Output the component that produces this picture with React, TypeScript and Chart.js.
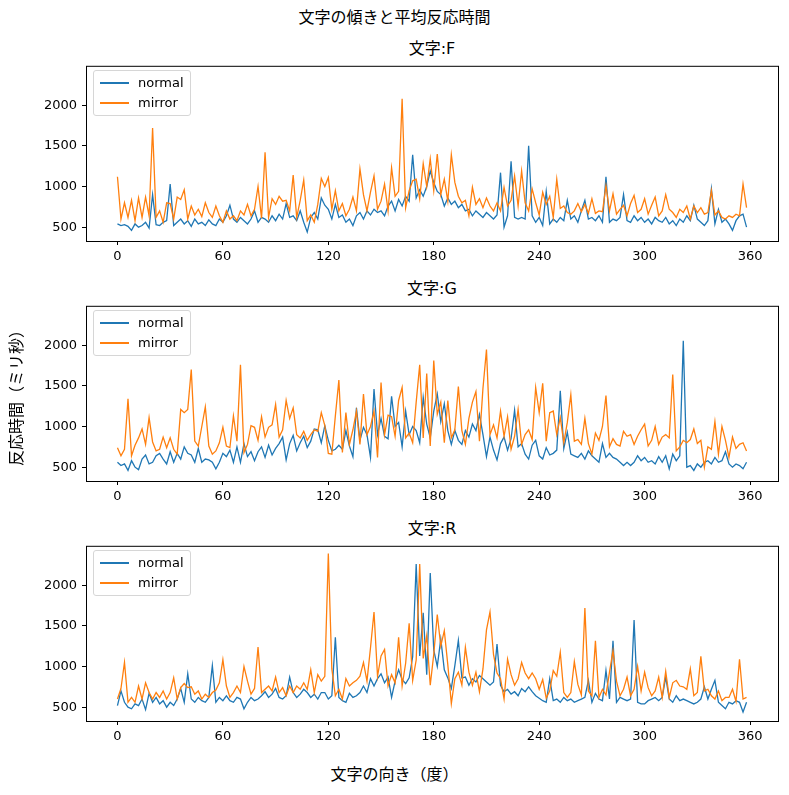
import { useEffect, useRef } from 'react'
import Chart from 'chart.js/auto'

// angles 0..358 in 2° steps
const angles = Array.from({ length: 180 }, (_, i) => i * 2)

const xTicks = [0, 60, 120, 180, 240, 300, 360]
const yTicks = [500, 1000, 1500, 2000]

const normalF = [
  540, 520, 530, 510, 460, 540, 500, 520, 560, 490,
  900, 530, 520, 560, 580, 1030, 520, 560, 600, 540,
  580, 510, 600, 540, 560, 520, 590, 540, 520, 600,
  560, 640, 770, 600, 560, 620, 580, 540, 600, 700,
  560, 620, 600, 560, 640, 580, 660, 600, 790, 620,
  640, 580, 700, 560, 440, 620, 680, 600, 860, 770,
  720, 600, 780, 620, 650, 560, 600, 520, 640, 680,
  600, 700, 650, 720, 680, 700, 640, 760, 820, 700,
  840, 760, 880, 820, 1390, 860, 960, 880, 1000, 1190,
  1050, 940, 900, 760, 860, 780, 820, 740, 780, 700,
  720, 640, 700, 660, 620, 680, 640, 600, 650, 1170,
  500, 640, 1310, 620, 600, 620, 600, 1500, 640,
  560, 620, 520, 940, 540, 600, 560, 620, 580, 830,
  600, 640, 560, 700, 830, 600, 620, 580, 640, 560,
  1120, 560, 600, 580, 620, 900, 580, 560, 640, 580,
  620, 560, 600, 540, 620, 580, 560, 620, 540, 580,
  520, 600, 560, 640, 580, 770, 600, 560, 520, 580,
  970, 540, 720, 560, 600, 540, 460, 580, 640, 660,
  500,
]

const mirrorF = [
  1120, 600, 800, 620, 830, 580, 860, 620, 870, 640,
  1720, 620, 700, 560, 800, 790, 600, 870, 840, 960,
  600, 760, 650, 720, 630, 800, 680, 620, 760, 640,
  560, 700, 600, 640, 580, 700, 650, 780, 640, 720,
  1000, 610, 1420, 620, 850, 780, 880, 820, 830, 700,
  1140, 620, 830, 1080, 580, 650, 560, 780, 1100, 1000,
  1110, 720, 950, 700, 790, 640, 720, 870, 700, 1215,
  900, 700, 930, 1130, 720, 820, 1030, 700, 1230, 880,
  940, 2080, 740, 950, 1070, 1090, 850, 1280, 1000, 1340,
  950, 1400, 900, 1090, 820, 1390, 1050, 880, 800, 830,
  640, 990, 780, 850, 740, 860, 760, 700, 800, 700,
  990, 760, 830, 1130, 760, 1190, 800, 700, 970,
  800, 650, 930, 780, 880, 620, 1090, 730, 760, 680,
  660, 700, 790, 690, 780, 670, 850, 670, 700, 690,
  1010, 700, 910, 660, 720, 770, 640, 790, 890, 680,
  720, 850, 660, 770, 870, 640, 700, 900, 720, 680,
  620, 720, 680, 760, 600, 760, 680, 740, 660, 680,
  950, 650, 700, 620, 600, 640, 620, 660, 640, 1030,
  740,
]

const normalG = [
  560, 520, 540, 460, 580, 500, 470, 600, 650, 540,
  560, 640, 670, 600, 540, 690, 560, 670, 600, 750,
  670, 650, 560, 730, 560, 600, 590, 560, 480, 560,
  670, 630, 710, 560, 750, 560, 790, 630, 690, 580,
  690, 750, 620, 770, 650, 730, 790, 870, 590, 790,
  890, 700, 800, 880, 740, 820, 970, 960, 800, 1010,
  830, 700, 720, 770, 720, 950, 760, 630, 1230, 830,
  990, 900, 620, 1460, 900, 1100, 880, 850, 1370, 1000,
  1050, 750, 1190, 900, 1000, 950, 800, 1360, 1030, 860,
  1190, 1400, 1060, 1280, 950, 780, 950, 830, 780, 950,
  870, 1030, 950, 1150, 900, 630, 870, 710, 590, 790,
  870, 710, 850, 1200, 750, 790, 660, 600, 770,
  830, 640, 600, 740, 650, 670, 710, 1440, 730, 930,
  660, 640, 620, 670, 600, 700, 640, 600, 560, 790,
  620, 670, 620, 600, 560, 520, 560, 520, 560, 640,
  580, 620, 560, 580, 540, 630, 560, 640, 480, 660,
  580, 640, 2055, 500, 520, 460, 540, 500, 560, 580,
  540, 620, 560, 580, 690, 540, 500, 540, 520, 480,
  560,
]

const mirrorG = [
  740, 640, 720, 1340, 640, 770, 860, 970, 780, 1110,
  810, 700, 720, 870, 740, 860, 720, 660, 1210, 1170,
  1210, 1700, 820, 760, 1000, 1240, 760, 660, 700, 800,
  990, 760, 740, 1130, 820, 1760, 680, 780, 1010, 990,
  830, 1120, 870, 990, 1020, 1270, 870, 960, 1320, 1100,
  1230, 900, 860, 940, 830, 900, 960, 940, 1170, 1010,
  670, 660, 1130, 1570, 680, 1170, 780, 960, 1190, 780,
  1400, 900, 1000, 1190, 620, 1540, 900, 1140, 1120, 880,
  1320, 1480, 860, 920, 800, 1300, 1760, 860, 1650, 760,
  1810, 1150, 1300, 800, 1320, 860, 960, 1490, 950, 780,
  1100, 1300, 1430, 820, 1470, 1945, 900, 1020, 860, 1190,
  880, 1120, 720, 880, 1210, 780, 900, 960, 840,
  1480, 1170, 1530, 820, 1170, 1190, 900, 1110, 800, 1050,
  1390, 820, 840, 780, 1100, 790, 660, 920, 830, 1000,
  1380, 750, 850, 780, 760, 940, 880, 900, 780, 880,
  960, 1030, 760, 830, 1000, 780, 870, 900, 860, 1640,
  700, 750, 830, 800, 840, 970, 790, 830, 500, 750,
  720, 1060, 660, 1000, 830, 620, 870, 730, 780, 800,
  700,
]

const normalR = [
  520, 700, 560, 500, 480, 540, 520, 600, 470, 670,
  560, 620, 540, 580, 500, 560, 520, 600, 730, 560,
  910, 600, 560, 620, 580, 560, 620, 1010, 560, 620,
  580, 640, 580, 560, 620, 600, 480, 560, 620, 580,
  600, 640, 690, 620, 660, 730, 620, 600, 640, 870,
  680, 620, 660, 720, 680, 620, 660, 600, 680, 680,
  600, 640, 1360, 620, 580, 560, 670, 620, 640, 680,
  760, 680, 850, 760, 850, 910, 800, 870, 620, 820,
  960, 840, 790, 860, 1120, 2260, 1130, 1660, 900, 2150,
  1200, 1000, 1340, 960, 860, 730, 1010, 1320, 860, 870,
  770, 850, 810, 890, 850, 810, 770, 810, 1275, 770,
  690, 720, 660, 690, 640, 730, 690, 750, 690,
  640, 610, 580, 560, 850, 580, 600, 560, 620, 580,
  600, 560, 580, 600, 620, 830, 560, 670, 600, 580,
  950, 600, 1315, 560, 620, 600, 580, 600, 1570, 560,
  540, 540, 580, 600, 620, 580, 620, 870, 600, 560,
  640, 580, 600, 580, 560, 540, 560, 600, 750, 600,
  720, 830, 560, 520, 480, 560, 540, 580, 560, 440,
  560,
]

const mirrorR = [
  600, 730, 1050, 560, 620, 560, 760, 600, 800, 680,
  600, 680, 620, 700, 600, 680, 860, 600, 740, 790,
  740, 750, 660, 700, 600, 660, 620, 680, 710, 800,
  1085, 760, 620, 680, 760, 680, 1000, 820, 660, 730,
  1240, 680, 720, 760, 700, 870, 680, 740, 640, 760,
  680, 760, 720, 800, 720, 960, 680, 900, 820, 880,
  2390, 970, 640, 720, 600, 850, 760, 800, 830, 880,
  1050, 820, 1230, 1670, 880, 1130, 1210, 760, 900, 800,
  1360, 760, 1040, 1530, 830, 1080, 2260, 1100, 1380, 770,
  1150, 1640, 1250, 1440, 1020, 545, 850, 930, 770, 1235,
  930, 770, 930, 690, 970, 1450, 1670, 1150, 920, 850,
  600, 1090, 900, 770, 850, 1050, 920, 850, 920,
  850, 720, 840, 610, 700, 950, 880, 1175, 680, 620,
  680, 1060, 780, 650, 1720, 700, 640, 1315, 620, 720,
  650, 930, 1195, 820, 640, 720, 870, 640, 720, 1000,
  700, 930, 740, 640, 700, 870, 620, 940, 620, 800,
  830, 760, 750, 720, 970, 640, 680, 1125, 700, 720,
  640, 600, 700, 580, 620, 620, 720, 570, 1090, 600,
  620,
]

const FONT = '"DejaVu Sans", "Noto Sans CJK JP", sans-serif'
const BLUE = '#1f77b4'
const ORANGE = '#ff7f0e'

const W = 789
const PLOT_LEFT = 86
const PLOT_RIGHT = 778
const PLOT_H = 178
const PAD_TOP = 10
const AXIS_H = 30
const X_MIN = -17.9
const X_MAX = 375.9
const Y_MIN = 330
const Y_MAX = 2484

const frame = {
  id: 'frame',
  afterDraw(chart: any) {
    const { ctx, chartArea: a } = chart
    ctx.save()
    ctx.strokeStyle = '#000'
    ctx.lineWidth = 1
    ctx.strokeRect(a.left + 0.5, a.top + 0.5, a.right - a.left, a.bottom - a.top)
    ctx.restore()
  },
}

function Panel({ title, normal, mirror, top }: { title: string; normal: number[]; mirror: number[]; top: number }) {
  const canvasRef = useRef<HTMLCanvasElement | null>(null)
  const chartRef = useRef<Chart | null>(null)

  useEffect(() => {
    if (!canvasRef.current) return
    const tickFont = { family: FONT, size: 13 }
    chartRef.current = new Chart(canvasRef.current, {
      type: 'line',
      data: {
        datasets: [
          {
            label: 'normal',
            data: angles.map((a, i) => ({ x: a, y: normal[i] })),
            borderColor: BLUE,
            backgroundColor: BLUE,
            order: 1,
          },
          {
            label: 'mirror',
            data: angles.map((a, i) => ({ x: a, y: mirror[i] })),
            borderColor: ORANGE,
            backgroundColor: ORANGE,
            order: 0,
          },
        ],
      },
      options: {
        animation: false,
        responsive: true,
        maintainAspectRatio: false,
        layout: { padding: { left: 0, right: W - PLOT_RIGHT, top: PAD_TOP, bottom: 0 } },
        plugins: { legend: { display: false }, tooltip: { enabled: false } },
        elements: {
          point: { radius: 0 },
          line: { tension: 0, borderWidth: 1.3 },
        },
        scales: {
          x: {
            type: 'linear',
            min: X_MIN,
            max: X_MAX,
            afterBuildTicks: (s: any) => {
              s.ticks = xTicks.map((v) => ({ value: v }))
            },
            afterFit: (s: any) => {
              s.height = AXIS_H
            },
            ticks: {
              callback: (v: any) => String(v),
              color: '#000',
              font: tickFont,
              padding: 4,
              maxRotation: 0,
              autoSkip: false,
            },
            grid: { drawOnChartArea: false, tickLength: 4, color: '#000' },
            border: { display: false },
          },
          y: {
            min: Y_MIN,
            max: Y_MAX,
            afterBuildTicks: (s: any) => {
              s.ticks = yTicks.map((v) => ({ value: v }))
            },
            afterFit: (s: any) => {
              s.width = PLOT_LEFT
            },
            ticks: {
              callback: (v: any) => String(v),
              color: '#000',
              font: tickFont,
              padding: 5,
              autoSkip: false,
            },
            grid: { drawOnChartArea: false, tickLength: 4, color: '#000' },
            border: { display: false },
          },
        },
      },
      plugins: [frame],
    })

    return () => {
      if (chartRef.current) {
        chartRef.current.destroy()
        chartRef.current = null
      }
    }
  }, [normal, mirror])

  const plotCenter = (PLOT_LEFT + PLOT_RIGHT) / 2

  return (
    <>
      <div
        style={{
          position: 'absolute',
          left: plotCenter - 100,
          width: 200,
          top: top - 24,
          textAlign: 'center',
          fontSize: 16,
          lineHeight: '20px',
        }}
      >
        {title}
      </div>
      <div style={{ position: 'absolute', left: 0, top: top - PAD_TOP, width: W, height: PAD_TOP + PLOT_H + AXIS_H }}>
        <canvas ref={canvasRef} />
      </div>
      <div
        style={{
          position: 'absolute',
          left: PLOT_LEFT + 7,
          top: top + 7,
          width: 96,
          height: 44,
          border: '1px solid #d6d6d6',
          borderRadius: 3,
          background: 'rgba(255,255,255,0.8)',
          fontSize: 13,
        }}
      >
        {[
          { name: 'normal', color: BLUE, y: 12 },
          { name: 'mirror', color: ORANGE, y: 32 },
        ].map((it) => (
          <div key={it.name}>
            <div
              style={{
                position: 'absolute',
                left: 6,
                top: it.y - 1,
                width: 29,
                height: 1.5,
                background: it.color,
              }}
            />
            <div style={{ position: 'absolute', left: 44, top: it.y - 10, lineHeight: '20px' }}>{it.name}</div>
          </div>
        ))}
      </div>
    </>
  )
}

export default function App() {
  return (
    <div
      style={{
        position: 'absolute',
        left: 0,
        top: 0,
        width: W,
        height: 795,
        background: '#fff',
        fontFamily: FONT,
        color: '#000',
        overflow: 'hidden',
      }}
    >
      <div style={{ position: 'absolute', left: 0, width: W, top: 8, textAlign: 'center', fontSize: 16, lineHeight: '20px' }}>
        文字の傾きと平均反応時間
      </div>
      <Panel title="文字:F" normal={normalF} mirror={mirrorF} top={63} />
      <Panel title="文字:G" normal={normalG} mirror={mirrorG} top={303} />
      <Panel title="文字:R" normal={normalR} mirror={mirrorR} top={543} />
      <div
        style={{
          position: 'absolute',
          left: 17 - 100,
          top: 394 - 10,
          width: 200,
          textAlign: 'center',
          fontSize: 16,
          lineHeight: '20px',
          transform: 'rotate(-90deg)',
        }}
      >
        反応時間（ミリ秒）
      </div>
      <div style={{ position: 'absolute', left: 0, width: W, top: 765, textAlign: 'center', fontSize: 16, lineHeight: '20px' }}>
        文字の向き（度）
      </div>
    </div>
  )
}
